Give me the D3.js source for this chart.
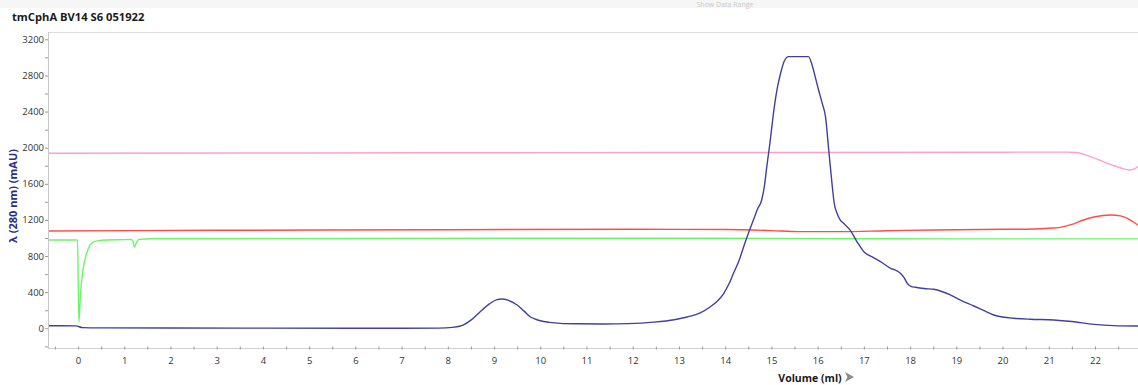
<!DOCTYPE html>
<html>
<head>
<meta charset="utf-8">
<script src="https://cdn.jsdelivr.net/npm/d3@7"></script>
<style>
  html, body { margin: 0; padding: 0; background: #ffffff; }
  svg { display: block; font-family: "Open Sans", "Liberation Sans", sans-serif; }
</style>
</head>
<body>
<svg id="chart" width="1138" height="385"></svg>
<script>
// UV 280 nm trace (mAU) vs elution volume (ml)
const uvVolume = [-0.65, -0.05, 0.1, 0.5, 2, 4, 6, 7.0, 7.8, 8.1, 8.33, 8.5, 8.7, 8.9, 9.05, 9.17, 9.3, 9.5, 9.65, 9.78, 9.9, 10.0, 10.2, 10.43, 10.8, 11.36, 11.9, 12.45, 12.9, 13.18, 13.46, 13.68, 13.85, 13.97, 14.08, 14.18, 14.3, 14.4, 14.5, 14.61, 14.7, 14.79, 14.85, 14.9, 14.96, 15.01, 15.06, 15.12, 15.2, 15.28, 15.37, 15.8, 15.88, 15.95, 16.02, 16.1, 16.17, 16.24, 16.31, 16.36, 16.42, 16.49, 16.56, 16.7, 16.85, 17.0, 17.18, 17.36, 17.58, 17.7, 17.79, 17.87, 17.94, 18.02, 18.12, 18.3, 18.51, 18.7, 18.87, 19.1, 19.38, 19.6, 19.81, 20.0, 20.24, 20.6, 21.11, 21.5, 21.98, 22.4, 22.93];
const uvValue = [28, 27, 8, 5, 3, 2, 1, 0, 2, 10, 36, 90, 184, 270, 315, 324, 312, 258, 190, 128, 100, 84, 66, 55, 50, 48, 52, 68, 95, 125, 170, 239, 310, 388, 490, 609, 750, 904, 1050, 1199, 1320, 1421, 1580, 1790, 2020, 2233, 2440, 2639, 2827, 2960, 3008, 3008, 2916, 2780, 2639, 2490, 2343, 1974, 1606, 1380, 1274, 1199, 1163, 1089, 960, 848, 790, 738, 664, 640, 609, 560, 498, 465, 454, 440, 432, 405, 369, 310, 247, 195, 147, 125, 111, 100, 92, 75, 44, 30, 25];

// Pink trace
const pinkVolume = [-0.65, 5, 10, 15, 20, 21.4, 21.6, 21.85, 22.1, 22.3, 22.47, 22.6, 22.75, 22.85, 22.93];
const pinkValue = [1938, 1941, 1945, 1947, 1950, 1951, 1946, 1910, 1863, 1820, 1790, 1768, 1753, 1765, 1790];

// Red trace
const redVolume = [-0.65, 3, 8, 12, 14, 15, 15.6, 16.5, 17.5, 18.5, 20, 20.67, 21.0, 21.25, 21.5, 21.75, 22.0, 22.34, 22.55, 22.7, 22.82, 22.93];
const redValue = [1078, 1085, 1092, 1096, 1094, 1082, 1070, 1070, 1080, 1089, 1096, 1100, 1108, 1118, 1150, 1199, 1235, 1255, 1245, 1218, 1180, 1144];

// Green trace
const greenVolume = [-0.65, -0.01, 0.005, 0.02, 0.05, 0.1, 0.19, 0.26, 0.33, 0.45, 0.62, 1.0, 1.15, 1.19, 1.22, 1.26, 1.32, 1.6, 3, 6, 10, 14, 17, 19, 22.93];
const greenValue = [978, 978, 500, 70, 350, 620, 834, 920, 955, 970, 978, 982, 984, 960, 897, 945, 985, 992, 992, 995, 997, 997, 992, 990, 990];

// Axis ticks
const xTickValues = d3.range(0, 23, 1);
const xMinorTicks = d3.range(-0.5, 23, 0.5);
const yTickValues = d3.range(0, 3201, 400);
const yMinorTicks = d3.range(-200, 3201, 200);

const svg = d3.select("#chart");

// plot frame
const frame = { left: 48, right: 1138, top: 32, bottom: 348 };
const x = d3.scaleLinear().domain([0, 22]).range([78, 1095]);
const y = d3.scaleLinear().domain([0, 3200]).range([328.3, 39.3]);

// toolbar strip at the top
svg.append("rect").attr("x", 0).attr("y", 0).attr("width", 1138).attr("height", 8).attr("fill", "#f6f6f6");
svg.append("text").attr("x", 725).attr("y", 6.5).attr("text-anchor", "middle")
  .attr("font-size", 7).attr("fill", "#c8c8c8").text("Show Data Range");

// title
svg.append("text").attr("x", 12).attr("y", 21)
  .attr("font-size", 11.2).attr("font-weight", "bold").attr("fill", "#1a1a1a")
  .text("tmCphA BV14 S6 051922");

// frame lines
svg.append("line").attr("x1", frame.left).attr("x2", frame.right).attr("y1", frame.top + 0.5).attr("y2", frame.top + 0.5).attr("stroke", "#dcdcdc");
svg.append("line").attr("x1", frame.left + 0.5).attr("x2", frame.left + 0.5).attr("y1", frame.top).attr("y2", frame.bottom).attr("stroke", "#c8c8c8");
svg.append("line").attr("x1", frame.left).attr("x2", frame.right).attr("y1", frame.bottom + 0.5).attr("y2", frame.bottom + 0.5).attr("stroke", "#d0d0d0");

// y axis
const yAxis = d3.axisLeft(y).tickValues(yMinorTicks).tickSize(3)
  .tickFormat(d => yTickValues.includes(d) ? d : "");
const gy = svg.append("g").attr("transform", `translate(${frame.left},0)`).call(yAxis);
gy.select(".domain").remove();
gy.selectAll(".tick line").attr("stroke", "#999");
gy.selectAll(".tick text").attr("font-size", 9.5).attr("fill", "#333").attr("x", -4)
  .attr("font-family", "'Open Sans', sans-serif");

// x axis
const xAxis = d3.axisBottom(x).tickValues(xMinorTicks).tickSize(3)
  .tickFormat(d => xTickValues.includes(d) ? d : "");
const gx = svg.append("g").attr("transform", `translate(0,${frame.bottom - 1.5})`).call(xAxis);
gx.select(".domain").remove();
gx.selectAll(".tick line").attr("stroke", "#999");
gx.selectAll(".tick text").attr("font-size", 9.5).attr("fill", "#333").attr("y", 11)
  .attr("font-family", "'Open Sans', sans-serif");

// axis titles
svg.append("text").attr("transform", "translate(17,196) rotate(-90)")
  .attr("text-anchor", "middle").attr("font-size", 11).attr("font-weight", "bold")
  .attr("fill", "#2b2e83").text("λ (280 nm) (mAU)");
svg.append("text").attr("x", 810).attr("y", 382).attr("text-anchor", "middle")
  .attr("font-size", 10.5).attr("font-weight", "bold").attr("fill", "#1a1a1a").text("Volume (ml)");
svg.append("path").attr("d", "M845,372 L854,377 L845,382 L847.5,377 Z").attr("fill", "#8c8c8c");

// traces
svg.append("clipPath").attr("id", "plotclip").append("rect")
  .attr("x", frame.left + 1).attr("y", frame.top).attr("width", frame.right - frame.left).attr("height", frame.bottom - frame.top);
const plot = svg.append("g").attr("clip-path", "url(#plotclip)");

const line = d3.line().x(d => x(d[0])).y(d => y(d[1])).curve(d3.curveMonotoneX);
const series = [
  { vol: pinkVolume, val: pinkValue, color: "#ff9fcf" },
  { vol: redVolume, val: redValue, color: "#ff4b4b" },
  { vol: greenVolume, val: greenValue, color: "#6cf56c" },
  { vol: uvVolume, val: uvValue, color: "#40409e" }
];
series.forEach(s => {
  plot.append("path").datum(d3.zip(s.vol, s.val))
    .attr("d", line).attr("fill", "none")
    .attr("stroke", s.color).attr("stroke-width", 1.4).attr("stroke-linejoin", "round");
});
</script>
</body>
</html>
